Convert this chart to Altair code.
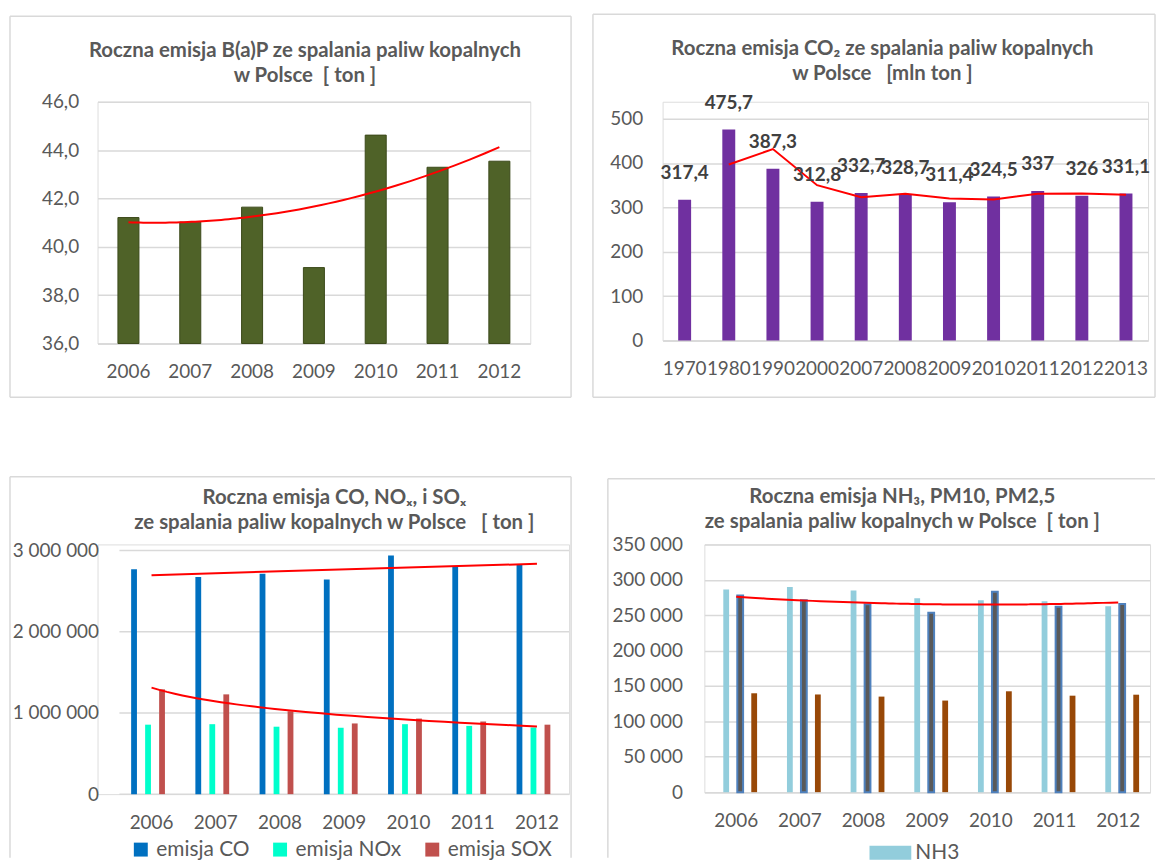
import altair as alt
import pandas as pd

FONT = "Lato"
GREY = "#595959"
GRID = "#D9D9D9"
RED = "#FF0000"

# ---------------- data ----------------
bap_years = ["2006", "2007", "2008", "2009", "2010", "2011", "2012"]
bap_values = [41.21, 41.02, 41.64, 39.14, 44.62, 43.29, 43.54]
bap_ticks = [36, 38, 40, 42, 44, 46]

co2_years = ["1970", "1980", "1990", "2000", "2007", "2008", "2009", "2010", "2011", "2012", "2013"]
co2_values = [317.4, 475.7, 387.3, 312.8, 332.7, 328.7, 311.4, 324.5, 337.0, 326.0, 331.1]
co2_ticks = [0, 100, 200, 300, 400, 500]

gas_years = ["2006", "2007", "2008", "2009", "2010", "2011", "2012"]
gas_series = ["emisja CO", "emisja NOx", "emisja SOX"]
co_values = [2767000, 2674000, 2714000, 2641000, 2938000, 2796000, 2828000]
nox_values = [855000, 861000, 830000, 817000, 861000, 840000, 820000]
sox_values = [1290000, 1228000, 1020000, 870000, 930000, 894000, 855000]
gas_ticks = [0, 1000000, 2000000, 3000000]

pm_years = ["2006", "2007", "2008", "2009", "2010", "2011", "2012"]
pm_series = ["NH3", "PM10", "PM2,5"]
nh3_values = [286500, 290000, 285000, 273800, 271000, 269800, 262800]
pm10_values = [278000, 271000, 265600, 253500, 283000, 262000, 266000]
pm25_values = [139700, 138000, 135000, 129400, 142500, 136300, 137700]
pm_ticks = [0, 50000, 100000, 150000, 200000, 250000, 300000, 350000]


def frame(x1, x2, y1, y2, sides="tlrb"):
    d = alt.Chart(pd.DataFrame({"f": [0]}))
    out = []
    rule = dict(color=GRID, strokeWidth=1.5)
    if "t" in sides:
        out.append(d.mark_rule(**rule).encode(x=alt.value(x1), x2=alt.value(x2), y=alt.value(y1)))
    if "b" in sides:
        out.append(d.mark_rule(**rule).encode(x=alt.value(x1), x2=alt.value(x2), y=alt.value(y2)))
    if "l" in sides:
        out.append(d.mark_rule(**rule).encode(x=alt.value(x1), y=alt.value(y1), y2=alt.value(y2)))
    if "r" in sides:
        out.append(d.mark_rule(**rule).encode(x=alt.value(x2), y=alt.value(y1), y2=alt.value(y2)))
    return out


def y_axis(values, fmt, pad, grid=True):
    return alt.Axis(values=values, format=fmt, title=None, domain=False, ticks=False,
                    grid=grid, gridColor=GRID, gridWidth=1.5, labelFont=FONT,
                    labelFontSize=19, labelColor=GREY, labelPadding=pad, labelOverlap=False)


def x_axis(pad, domain=True):
    return alt.Axis(title=None, labelAngle=0, domain=domain, domainColor=GRID, domainWidth=1.5,
                    ticks=False, grid=False, labelFont=FONT, labelFontSize=19,
                    labelColor=GREY, labelPadding=pad, labelOverlap=False)


def title(lines, offset, dx):
    return alt.TitleParams(text=lines, font=FONT, fontSize=20.5, fontWeight="bold", color=GREY,
                           anchor="middle", frame="group", offset=offset, dx=dx, lineHeight=25)


def trend_x(n, rng=None):
    if rng:
        sc = alt.Scale(domain=[0.5, n + 0.5], nice=False, zero=False, range=rng)
    else:
        sc = alt.Scale(domain=[0.5, n + 0.5], nice=False, zero=False)
    return alt.X("idx:Q", scale=sc, axis=None)


# ---------------- panel 1 : B(a)P ----------------
W1, H1 = 435, 243
df1 = pd.DataFrame({"year": bap_years, "idx": list(range(1, len(bap_years) + 1)), "value": bap_values})
base1 = alt.Chart(df1)
y1 = alt.Y("value:Q", scale=alt.Scale(domain=[36, 46], zero=False, nice=False),
           axis=y_axis(bap_ticks, ".1f", 19))
bars1 = base1.mark_bar(color="#4F6228", stroke="#3B4A1A", strokeWidth=1).encode(
    x=alt.X("year:N", axis=x_axis(19), scale=alt.Scale(paddingInner=0.66, paddingOuter=0.33)),
    y=y1,
    y2=alt.datum(36),
)
trend1 = base1.transform_regression("idx", "value", method="poly", order=2).mark_line(
    color=RED, strokeWidth=2).encode(x=trend_x(7), y=y1)
p1 = alt.layer(*frame(-88, 476, -86, 297), bars1, trend1).resolve_scale(x="independent").properties(
    width=W1, height=H1,
    title=title(["Roczna emisja B(a)P ze spalania paliw kopalnych", "w Polsce\u00a0\u00a0[ ton ]"], -71, -9))

# ---------------- panel 2 : CO2 ----------------
W2, H2 = 488, 240
df2 = pd.DataFrame({"year": co2_years, "value": co2_values})
base2 = alt.Chart(df2)
x2 = alt.X("year:N", axis=x_axis(19), scale=alt.Scale(paddingInner=0.707, paddingOuter=0.3535))
y2 = alt.Y("value:Q", scale=alt.Scale(domain=[0, 500], nice=False, range=[H2, 17]),
           axis=y_axis(co2_ticks, "d", 20))
bars2 = base2.mark_bar(color="#7030A0").encode(x=x2, y=y2)
ma2 = base2.transform_window(
    ma="mean(value)", rn="row_number()", frame=[-1, 0], sort=[alt.SortField("year")]
).transform_filter("datum.rn > 1").transform_calculate(value="datum.ma").mark_line(
    color=RED, strokeWidth=2).encode(x=x2, y=y2)
labels2 = base2.mark_text(font=FONT, fontSize=19, fontWeight="bold", color="#404040",
                          baseline="bottom", dy=-17).encode(
    x=x2, y=y2, text=alt.Text("value:Q", format=".1~f"))
p2 = alt.layer(*frame(-70, 495, -88, 297), bars2, ma2, labels2).properties(
    width=W2, height=H2,
    title=title(["Roczna emisja CO\u2082 ze spalania paliw kopalnych", "w Polsce\u00a0\u00a0\u00a0[mln ton ]"], -71, -23))

# ---------------- panel 3 : CO, NOx, SOx ----------------
W3, H3 = 474, 251
R3 = [22, 474]
rows3 = []
for i, y in enumerate(gas_years):
    for s, vals in zip(gas_series, [co_values, nox_values, sox_values]):
        rows3.append({"year": y, "idx": i + 1, "series": s, "value": vals[i]})
df3 = pd.DataFrame(rows3)
base3 = alt.Chart(df3)
y3 = alt.Y("value:Q", scale=alt.Scale(domain=[0, 3000000], nice=False, range=[H3, 6]),
           axis=y_axis(gas_ticks, ",d", -1, grid=False))
grid3 = alt.Chart(pd.DataFrame({"value": gas_ticks})).mark_rule(color=GRID, strokeWidth=1.5).encode(
    y=y3, x=alt.value(R3[0]), x2=alt.value(R3[1]))
bars3 = base3.mark_bar().encode(
    x=alt.X("year:N", axis=x_axis(20, domain=False),
            scale=alt.Scale(paddingInner=0.365, paddingOuter=0.1825, range=R3)),
    xOffset=alt.XOffset("series:N", sort=gas_series, scale=alt.Scale(paddingInner=0.17, paddingOuter=0)),
    y=y3,
    color=alt.Color("series:N", sort=gas_series,
                    scale=alt.Scale(domain=gas_series, range=["#0070C0", "#00FFCC", "#C0504D"]),
                    legend=alt.Legend(orient="none", legendX=33, legendY=296, direction="horizontal",
                                      title=None, symbolType="square", symbolSize=196,
                                      symbolStrokeWidth=0, symbolOpacity=1, labelFont=FONT,
                                      labelFontSize=21, labelColor=GREY, labelOffset=5,
                                      columnPadding=20)),
)
trend3a = base3.transform_filter("datum.series == 'emisja CO'").transform_regression(
    "idx", "value", method="linear").mark_line(color=RED, strokeWidth=2).encode(
    x=trend_x(7, R3), y=y3)
trend3b = base3.transform_filter("datum.series == 'emisja SOX'").transform_regression(
    "idx", "value", method="log").mark_line(color=RED, strokeWidth=2).encode(
    x=trend_x(7, R3), y=y3)
p3 = alt.layer(*frame(-88, 476, -68, 315, "tlr"), grid3, bars3, trend3a, trend3b).resolve_scale(
    x="independent").properties(
    width=W3, height=H3,
    title=title(["Roczna emisja CO, NO\u2093, i SO\u2093",
                 "ze spalania paliw kopalnych w Polsce\u00a0\u00a0\u00a0[ ton ]"], -58, 1))

# ---------------- panel 4 : NH3, PM10, PM2.5 ----------------
W4, H4 = 448, 249
rows4 = []
for i, y in enumerate(pm_years):
    for s, vals in zip(pm_series, [nh3_values, pm10_values, pm25_values]):
        rows4.append({"year": y, "idx": i + 1, "series": s, "value": vals[i]})
df4 = pd.DataFrame(rows4)
base4 = alt.Chart(df4)
y4 = alt.Y("value:Q", scale=alt.Scale(domain=[0, 350000], nice=False),
           axis=y_axis(pm_ticks, ",d", 22))
bars4 = base4.mark_bar(stroke="#4F81BD").encode(
    x=alt.X("year:N", axis=x_axis(20), scale=alt.Scale(paddingInner=0.375, paddingOuter=0.1875)),
    xOffset=alt.XOffset("series:N", sort=pm_series, scale=alt.Scale(paddingInner=0.15, paddingOuter=0)),
    y=y4,
    color=alt.Color("series:N", sort=pm_series,
                    scale=alt.Scale(domain=pm_series, range=["#92CDDC", "#595959", "#984807"]),
                    legend=alt.Legend(orient="none", legendX=166, legendY=289, values=["NH3"],
                                      title=None, symbolType="M-1,-0.333H1V0.333H-1Z",
                                      symbolSize=1764, symbolStrokeWidth=0, symbolOpacity=1,
                                      labelFont=FONT, labelFontSize=21, labelColor=GREY,
                                      labelOffset=4)),
    strokeWidth=alt.condition("datum.series == 'PM10'", alt.value(2), alt.value(0)),
)
trend4 = base4.transform_filter("datum.series == 'PM10'").transform_regression(
    "idx", "value", method="poly", order=2).mark_line(color=RED, strokeWidth=2).encode(
    x=trend_x(7), y=y4)
p4 = alt.layer(*frame(-97, 453, -66, 315, "tl"), bars4, trend4).resolve_scale(
    x="independent").properties(
    width=W4, height=H4,
    title=title(["Roczna emisja NH\u2083, PM10, PM2,5",
                 "ze spalania paliw kopalnych w Polsce\u00a0\u00a0[ ton ]"], -55, -25))

top = alt.hconcat(p1, p2, spacing=18).resolve_scale(color="independent")
bottom = alt.hconcat(p3, p4, spacing=33).resolve_scale(color="independent")
chart = alt.vconcat(top, bottom, spacing=76).resolve_scale(color="independent").properties(
    padding={"left": 0, "top": 2, "right": 0, "bottom": 0},
    background="white",
).configure_view(stroke=None).configure(
    font=FONT,
    locale={"number": {"decimal": ",", "thousands": "\u00a0", "grouping": [3], "currency": ["", ""]}},
)

chart.save("out.html", embed_options={"renderer": "svg", "actions": False})
